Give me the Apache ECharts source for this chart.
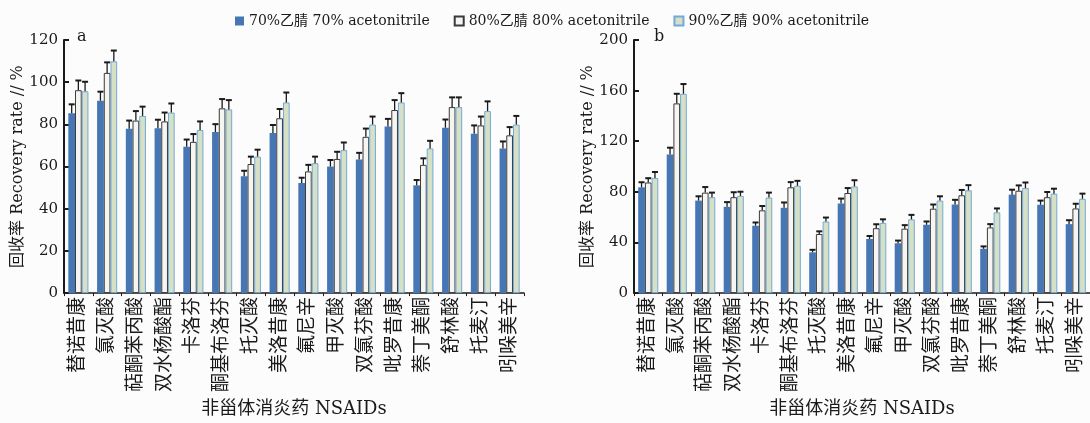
<!DOCTYPE html>
<html>
<head>
<meta charset="utf-8">
<script src="https://cdn.jsdelivr.net/npm/echarts@6/dist/echarts.min.js"></script>
<style>
  html, body { margin: 0; background: #fcfcfc; }
  #chart { width: 1090px; height: 423px; }
</style>
</head>
<body>
<div id="chart"></div>
<script>
const drugs = ['替诺昔康', '氯灭酸', '萜酮苯丙酸', '双水杨酸酯', '卡洛芬', '酮基布洛芬', '托灭酸', '美洛昔康',
  '氟尼辛', '甲灭酸', '双氯芬酸', '吡罗昔康', '萘丁美酮', '舒林酸', '托麦汀', '吲哚美辛'];
const seriesNames = ['70%乙腈 70% acetonitrile', '80%乙腈 80% acetonitrile', '90%乙腈 90% acetonitrile'];

const yTicksA = [0, 20, 40, 60, 80, 100, 120];
const yTicksB = [0, 40, 80, 120, 160, 200];

// panel a
const recA70 = [85.3, 91.2, 77.9, 78.2, 69.4, 76.4, 55.4, 75.9, 52.2, 60.0, 63.4, 79.0, 51.1, 78.4, 75.6, 68.6];
const recA80 = [96.2, 104.4, 81.8, 81.4, 71.7, 87.6, 61.2, 82.9, 57.7, 63.6, 74.1, 86.8, 60.8, 88.2, 79.5, 74.8];
const recA90 = [95.7, 109.9, 84.0, 85.6, 77.3, 87.1, 64.7, 90.4, 61.6, 67.8, 79.9, 90.4, 68.6, 88.2, 86.3, 79.9];
const errA70 = [4.2, 4.3, 3.9, 4.0, 3.4, 3.7, 2.6, 3.8, 2.5, 3.1, 3.1, 3.6, 2.5, 3.9, 3.9, 3.3];
const errA80 = [4.6, 5.0, 4.5, 4.2, 3.7, 4.4, 3.5, 4.4, 3.1, 3.4, 3.9, 4.7, 3.1, 4.6, 4.2, 3.9];
const errA90 = [4.5, 5.1, 4.4, 4.3, 4.1, 4.4, 3.3, 4.7, 3.1, 3.6, 3.8, 4.4, 3.6, 4.6, 4.6, 4.1];

// panel b
const recB70 = [83.6, 109.5, 73.1, 68.2, 53.2, 67.4, 32.2, 70.8, 42.8, 39.4, 54.0, 70.0, 35.0, 77.8, 69.8, 54.5];
const recB80 = [87.4, 149.9, 79.4, 75.8, 65.4, 83.6, 46.7, 79.1, 51.3, 50.9, 66.7, 77.3, 51.9, 80.9, 75.8, 66.9];
const recB90 = [91.0, 157.5, 75.8, 76.8, 75.5, 84.8, 56.6, 84.3, 55.5, 58.3, 73.1, 81.2, 63.8, 83.0, 78.6, 74.5];
const errB70 = [4.0, 5.4, 3.4, 3.7, 2.6, 4.2, 2.0, 3.9, 2.3, 2.1, 2.6, 3.7, 1.9, 3.9, 3.3, 3.1];
const errB80 = [3.4, 7.6, 4.4, 3.9, 3.4, 4.1, 2.1, 3.9, 3.1, 2.8, 3.3, 4.2, 2.6, 4.2, 4.1, 3.7];
const errB90 = [4.7, 7.7, 3.6, 3.3, 3.9, 3.9, 3.1, 4.9, 2.8, 3.5, 3.4, 4.1, 3.1, 4.4, 3.9, 4.1];

const FONT = "'DejaVu Serif', 'Noto Sans CJK SC', serif";
const BAR_W = 6.7;
const INK = '#1a1a1a';

const barStyles = [
  { color: '#4677b4' },
  { color: '#f7f5f1', borderColor: '#3a3a3a', borderWidth: 1 },
  { color: '#d6e0c4', borderColor: '#72a8da', borderWidth: 1 },
];

const chart = echarts.init(document.getElementById('chart'));

function makeBar(grid, idx, values) {
  return {
    name: seriesNames[idx],
    type: 'bar',
    xAxisIndex: grid,
    yAxisIndex: grid,
    barWidth: BAR_W,
    barGap: '0%',
    itemStyle: barStyles[idx],
    data: values,
  };
}

function makeErr(grid, idx, values, errs) {
  return {
    type: 'custom',
    xAxisIndex: grid,
    yAxisIndex: grid,
    silent: true,
    z: 5,
    data: values.map((v, i) => [i, v, errs[i]]),
    renderItem: (params, api) => {
      const base = api.coord([api.value(0), api.value(1)]);
      const top = api.coord([api.value(0), api.value(1) + api.value(2)]);
      const x = base[0] + (idx - 1) * BAR_W;
      return {
        type: 'group',
        children: [
          { type: 'line', shape: { x1: x, y1: base[1], x2: x, y2: top[1] }, style: { stroke: INK, lineWidth: 1.3 } },
          { type: 'line', shape: { x1: x - 3, y1: top[1], x2: x + 3, y2: top[1] }, style: { stroke: INK, lineWidth: 2 } },
        ],
      };
    },
  };
}

function xAxisFor(grid) {
  return {
    type: 'category',
    gridIndex: grid,
    data: drugs,
    name: '非甾体消炎药 NSAIDs',
    nameLocation: 'middle',
    nameGap: 106,
    nameTextStyle: { fontFamily: FONT, fontSize: 18, color: INK },
    axisLine: { lineStyle: { color: INK, width: 1.5 } },
    axisTick: { show: true, length: 3, lineStyle: { color: INK } },
    axisLabel: { rotate: 90, interval: 0, margin: 4, fontFamily: FONT, fontSize: 19, color: INK },
  };
}

function yAxisFor(grid, ticks) {
  return {
    type: 'value',
    gridIndex: grid,
    min: ticks[0],
    max: ticks[ticks.length - 1],
    interval: ticks[1] - ticks[0],
    name: '回收率 Recovery rate // %',
    nameLocation: 'middle',
    nameGap: 36,
    nameTextStyle: { fontFamily: FONT, fontSize: 16, color: INK },
    axisLine: { show: true, lineStyle: { color: INK, width: 2 } },
    axisTick: { show: true, inside: true, length: 5, lineStyle: { color: INK, width: 2 } },
    axisLabel: { margin: 6, fontFamily: FONT, fontSize: 15, color: INK },
    splitLine: { show: false },
  };
}

chart.setOption({
  backgroundColor: '#fcfcfc',
  animation: false,
  legend: {
    data: seriesNames,
    left: 230,
    top: 9,
    itemWidth: 9,
    itemHeight: 9,
    itemGap: 24,
    icon: 'rect',
    textStyle: { fontFamily: FONT, fontSize: 14, color: INK },
  },
  grid: [
    { left: 64, top: 40, width: 460, height: 257 },
    { left: 634, top: 40, width: 461, height: 257 },
  ],
  xAxis: [xAxisFor(0), xAxisFor(1)],
  yAxis: [yAxisFor(0, yTicksA), yAxisFor(1, yTicksB)],
  graphic: [
    { type: 'text', left: 77, top: 29, style: { text: 'a', font: '16px ' + FONT, fill: INK } },
    { type: 'text', left: 654, top: 29, style: { text: 'b', font: '16px ' + FONT, fill: INK } },
  ],
  series: [
    makeBar(0, 0, recA70), makeBar(0, 1, recA80), makeBar(0, 2, recA90),
    makeBar(1, 0, recB70), makeBar(1, 1, recB80), makeBar(1, 2, recB90),
    makeErr(0, 0, recA70, errA70), makeErr(0, 1, recA80, errA80), makeErr(0, 2, recA90, errA90),
    makeErr(1, 0, recB70, errB70), makeErr(1, 1, recB80, errB80), makeErr(1, 2, recB90, errB90),
  ],
});
</script>
</body>
</html>
